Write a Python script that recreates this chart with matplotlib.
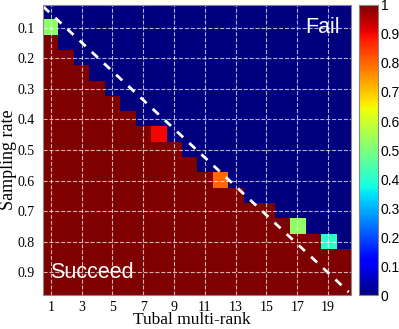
import numpy as np
import matplotlib
matplotlib.use("Agg")
import matplotlib.pyplot as plt

# phase transition data: rank vs sampling rate
ranks = np.arange(1, 21)
rates = np.round(np.arange(0.05, 0.951, 0.05), 2)

# sampling rate from which recovery always succeeds, per rank
first_success = [0.15, 0.2, 0.25, 0.3, 0.35, 0.4, 0.45, 0.5, 0.5, 0.55,
                 0.6, 0.65, 0.65, 0.7, 0.7, 0.75, 0.8, 0.8, 0.85, 0.85]

# cells with partial success
partial_rank = [1, 8, 12, 17, 19]
partial_rate = [0.1, 0.45, 0.6, 0.75, 0.8]
partial_value = [0.52, 0.9, 0.8, 0.52, 0.4]

Z = np.zeros((len(rates), len(ranks)))
for j, fs in enumerate(first_success):
    Z[rates >= fs - 1e-9, j] = 1.0
for r, s, v in zip(partial_rank, partial_rate, partial_value):
    i = int(np.argmin(np.abs(rates - s)))
    Z[i, r - 1] = v

fig = plt.figure(figsize=(3.99, 3.29), dpi=100)
ax = fig.add_axes([0.108, 0.103, 0.772, 0.882])
cax = fig.add_axes([0.900, 0.103, 0.047, 0.882])

im = ax.imshow(Z, cmap="jet", vmin=0, vmax=1, aspect="auto",
               extent=(0.5, 20.5, 0.975, 0.025), interpolation="nearest")

ax.plot([0.5, 20.35], [0.03, 0.965], color="white", lw=2, ls=(0, (3, 3)))

ax.set_xticks(np.arange(1, 20, 2))
ax.set_yticks(np.round(np.arange(0.1, 0.91, 0.1), 1))
ax.set_xlim(0.5, 20.5)
ax.set_ylim(0.975, 0.025)
ax.grid(True, color="white", ls="--", lw=0.8, alpha=0.7)
ax.tick_params(axis="x", length=0, pad=4)
ax.tick_params(axis="y", length=0, pad=6)
for lab in ax.get_xticklabels() + ax.get_yticklabels():
    lab.set_fontfamily("Liberation Serif")
    lab.set_fontsize(10)
for sp in ax.spines.values():
    sp.set_color("#888888")
    sp.set_linewidth(0.8)

fig.text(0.48, 0.002, "Tubal multi-rank", family="Liberation Serif", fontsize=12.5,
         ha="center", va="bottom")
fig.text(0.0, 1 - 160 / 329, "Sampling rate", family="Liberation Serif", fontsize=13,
         rotation=90, ha="left", va="center")

ax.text(19.8, 0.1, "Fail", color="white", fontsize=15.5, family="Liberation Sans",
        ha="right", va="center")
ax.text(0.95, 0.9, "Succeed", color="white", fontsize=15.5, family="Liberation Sans",
        ha="left", va="center")

cb = fig.colorbar(im, cax=cax, ticks=np.round(np.arange(0, 1.01, 0.1), 1))
cb.ax.set_yticklabels(["0"] + ["%.1f" % t for t in np.arange(0.1, 0.95, 0.1)] + ["1"])
cb.ax.tick_params(labelsize=10, length=0, pad=2)
for lab in cb.ax.get_yticklabels():
    lab.set_fontfamily("Liberation Sans")
cb.outline.set_edgecolor("#888888")
cb.outline.set_linewidth(0.8)

fig.savefig("out.png", dpi=100)
